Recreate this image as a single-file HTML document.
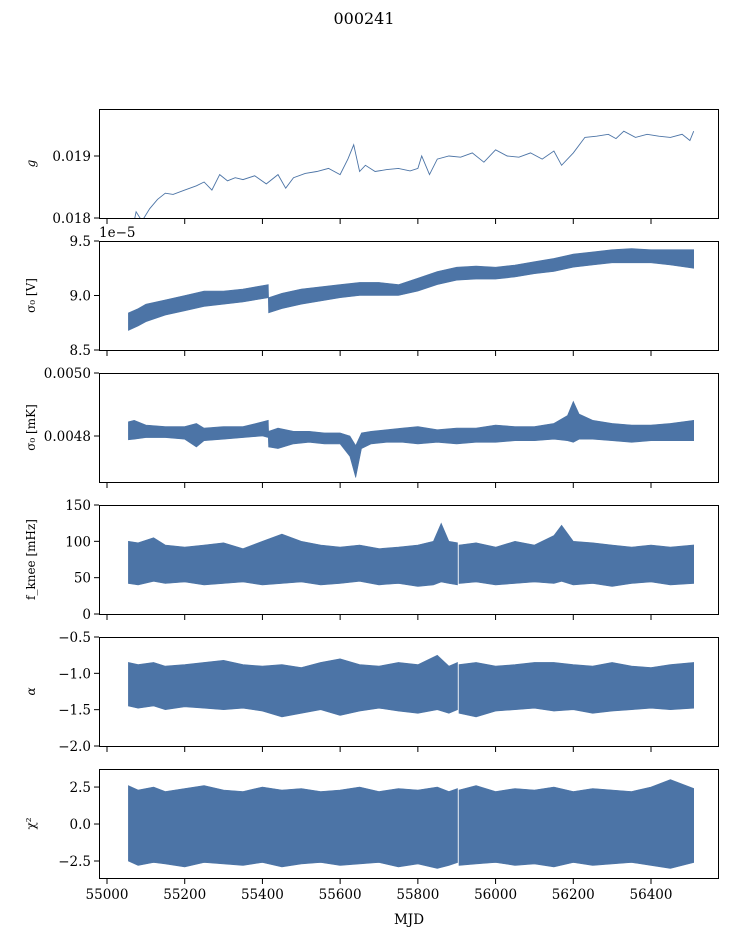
<!DOCTYPE html>
<html><head><meta charset="utf-8"><style>
html,body{margin:0;padding:0;background:#fff;}
svg{display:block;font-family:"DejaVu Serif","Liberation Serif",serif;}
</style></head><body>
<svg id="fig" width="729" height="936" viewBox="0 0 729 936" xmlns="http://www.w3.org/2000/svg">
<text x="364" y="24" font-size="16" text-anchor="middle">000241</text>
</svg>
<script>
// ---- shared x data ----
const xTicks = [55000, 55200, 55400, 55600, 55800, 56000, 56200, 56400];
const xTickLabels = ["55000","55200","55400","55600","55800","56000","56200","56400"];

// ---- panel 1: g (line) ----
const gMjd = [55055,55065,55075,55090,55110,55130,55150,55170,55200,55230,55250,55270,55290,55310,55330,55350,55380,55410,55440,55460,55480,55510,55540,55570,55600,55620,55635,55650,55665,55690,55720,55750,55780,55800,55810,55830,55850,55880,55910,55940,55970,56000,56030,56060,56090,56120,56150,56170,56200,56230,56260,56290,56310,56330,56360,56390,56420,56450,56480,56500,56510];
const gVal = [0.01795,0.01780,0.01810,0.01795,0.01815,0.01830,0.01840,0.01838,0.01845,0.01852,0.01858,0.01845,0.01870,0.01860,0.01865,0.01862,0.01868,0.01855,0.01870,0.01848,0.01865,0.01872,0.01875,0.01880,0.01870,0.01895,0.01918,0.01875,0.01885,0.01875,0.01878,0.01880,0.01876,0.01880,0.01900,0.01870,0.01895,0.01900,0.01898,0.01905,0.01890,0.01910,0.01900,0.01898,0.01905,0.01895,0.01908,0.01885,0.01905,0.01930,0.01932,0.01935,0.01928,0.01940,0.01930,0.01935,0.01932,0.01930,0.01935,0.01925,0.01940];

// ---- panel 2: sigma0 [V] envelope (1e-5) ----
const vMjd = [55055,55080,55100,55150,55200,55250,55300,55350,55415,55416,55450,55500,55550,55600,55650,55700,55750,55800,55850,55900,55950,56000,56050,56100,56150,56200,56250,56300,56350,56400,56450,56510];
const vLow = [8.68,8.72,8.76,8.82,8.86,8.90,8.92,8.94,8.98,8.84,8.88,8.92,8.95,8.98,9.00,9.00,9.00,9.04,9.10,9.14,9.15,9.15,9.17,9.20,9.22,9.26,9.28,9.30,9.30,9.30,9.28,9.25];
const vHigh = [8.84,8.88,8.92,8.96,9.00,9.04,9.04,9.06,9.10,8.98,9.02,9.06,9.08,9.10,9.12,9.12,9.10,9.16,9.22,9.26,9.27,9.26,9.28,9.31,9.34,9.38,9.40,9.42,9.43,9.42,9.42,9.42];

// ---- panel 3: sigma0 [mK] envelope ----
const kMjd = [55055,55070,55100,55150,55200,55230,55250,55300,55350,55400,55415,55416,55440,55480,55520,55560,55600,55625,55640,55655,55680,55720,55760,55800,55850,55900,55950,56000,56050,56100,56150,56185,56200,56215,56250,56300,56350,56400,56450,56510];
const kLow = [0.004788,0.004790,0.004795,0.004795,0.004790,0.004765,0.004785,0.004790,0.004795,0.004800,0.004795,0.004765,0.004760,0.004775,0.004780,0.004775,0.004775,0.004735,0.004668,0.004760,0.004775,0.004780,0.004780,0.004775,0.004780,0.004775,0.004780,0.004780,0.004785,0.004785,0.004790,0.004785,0.004780,0.004790,0.004790,0.004785,0.004780,0.004785,0.004785,0.004785];
const kHigh = [0.004845,0.004850,0.004835,0.004830,0.004830,0.004840,0.004825,0.004830,0.004830,0.004845,0.004850,0.004815,0.004825,0.004815,0.004815,0.004810,0.004810,0.004800,0.004770,0.004810,0.004815,0.004820,0.004825,0.004830,0.004820,0.004825,0.004825,0.004835,0.004830,0.004830,0.004840,0.004865,0.004910,0.004870,0.004850,0.004840,0.004835,0.004835,0.004840,0.004850];

// ---- panel 4: f_knee [mHz] envelope ----
const fMjd = [55055,55080,55120,55150,55200,55250,55300,55350,55400,55450,55500,55550,55600,55650,55700,55750,55800,55840,55860,55880,55902,55903,55905,55906,55950,56000,56050,56100,56150,56170,56200,56250,56300,56350,56400,56450,56510];
const fLow = [42,40,45,42,44,40,42,44,40,42,44,40,42,45,40,42,38,40,44,42,40,null,null,42,44,40,42,44,42,45,40,42,38,42,44,40,42];
const fHigh = [100,98,105,95,92,95,98,90,100,110,100,95,92,95,90,92,95,100,125,100,98,null,null,95,98,92,100,95,108,122,100,98,95,92,95,92,95];

// ---- panel 5: alpha envelope ----
const aMjd = [55055,55080,55120,55150,55200,55250,55300,55350,55400,55450,55500,55550,55600,55650,55700,55750,55800,55850,55880,55902,55903,55905,55906,55950,56000,56050,56100,56150,56200,56250,56300,56350,56400,56450,56510];
const aLow = [-1.45,-1.48,-1.45,-1.50,-1.46,-1.48,-1.50,-1.48,-1.52,-1.60,-1.55,-1.50,-1.58,-1.52,-1.48,-1.52,-1.55,-1.50,-1.55,-1.50,null,null,-1.55,-1.60,-1.52,-1.50,-1.48,-1.52,-1.50,-1.55,-1.52,-1.50,-1.48,-1.50,-1.48];
const aHigh = [-0.85,-0.88,-0.85,-0.90,-0.88,-0.85,-0.82,-0.88,-0.90,-0.88,-0.92,-0.85,-0.80,-0.88,-0.90,-0.85,-0.88,-0.75,-0.90,-0.85,null,null,-0.88,-0.85,-0.90,-0.88,-0.85,-0.85,-0.88,-0.90,-0.85,-0.90,-0.92,-0.88,-0.85];

// ---- panel 6: chi^2 envelope ----
const cMjd = [55055,55080,55120,55150,55200,55250,55300,55350,55400,55450,55500,55550,55600,55650,55700,55750,55800,55850,55880,55902,55903,55905,55906,55950,56000,56050,56100,56150,56200,56250,56300,56350,56400,56450,56510];
const cLow = [-2.5,-2.8,-2.6,-2.7,-2.9,-2.6,-2.7,-2.8,-2.6,-2.9,-2.7,-2.6,-2.8,-2.7,-2.6,-2.9,-2.7,-3.0,-2.8,-2.6,null,null,-2.8,-2.7,-2.6,-2.8,-2.7,-2.9,-2.6,-2.8,-2.7,-2.6,-2.8,-3.0,-2.6];
const cHigh = [2.6,2.3,2.5,2.2,2.4,2.6,2.3,2.2,2.5,2.3,2.4,2.2,2.3,2.5,2.2,2.4,2.3,2.5,2.2,2.4,null,null,2.3,2.6,2.2,2.4,2.3,2.5,2.2,2.4,2.3,2.2,2.5,3.0,2.4];

const NS = "http://www.w3.org/2000/svg";
const svg = document.getElementById('fig');
const COLOR = "#4c74a6";
const X0 = 99, X1 = 719;
function xs(m){ return 107 + (m - 55000) * (544 / 1400); }
function mk(tag, attrs, parent){
  const e = document.createElementNS(NS, tag);
  for (const k in attrs) e.setAttribute(k, attrs[k]);
  (parent || svg).appendChild(e);
  return e;
}

const panels = [
  {name:"g", top:109, ymin:0.018, ymax:0.019758, yt:[0.018,0.019], ytl:["0.018","0.019"], label:"g", type:"line", mjd:gMjd, val:gVal},
  {name:"sigma0-volts", top:241, ymin:8.5, ymax:9.5, yt:[8.5,9.0,9.5], ytl:["8.5","9.0","9.5"], label:"σ₀ [V]", type:"band", mjd:vMjd, lo:vLow, hi:vHigh, offset:"1e−5"},
  {name:"sigma0-mk", top:373, ymin:0.004654, ymax:0.0050, yt:[0.0048,0.0050], ytl:["0.0048","0.0050"], label:"σ₀ [mK]", type:"band", mjd:kMjd, lo:kLow, hi:kHigh},
  {name:"fknee", top:505, ymin:0, ymax:150, yt:[0,50,100,150], ytl:["0","50","100","150"], label:"f_knee [mHz]", type:"band", mjd:fMjd, lo:fLow, hi:fHigh},
  {name:"alpha", top:637, ymin:-2.0, ymax:-0.5, yt:[-2.0,-1.5,-1.0,-0.5], ytl:["−2.0","−1.5","−1.0","−0.5"], label:"α", type:"band", mjd:aMjd, lo:aLow, hi:aHigh},
  {name:"chi2", top:769, ymin:-3.65, ymax:3.72, yt:[-2.5,0,2.5], ytl:["−2.5","0.0","2.5"], label:"χ²", type:"band", mjd:cMjd, lo:cLow, hi:cHigh}
];
const H = 109;

panels.forEach((p, idx) => {
  const ys = v => p.top + H - (v - p.ymin) / (p.ymax - p.ymin) * H;
  const g = mk('g', {}, svg);
  
  
  const cid = 'clip' + idx;
  const cp = mk('clipPath', {id:cid}, g);
  mk('rect', {x:X0, y:p.top, width:X1-X0, height:H}, cp);

  if (p.type === 'line') {
    let d = '';
    p.mjd.forEach((m,i) => { d += (i ? 'L' : 'M') + xs(m).toFixed(1) + ',' + ys(p.val[i]).toFixed(1); });
    const l = mk('path', {d:d, fill:'none', stroke:COLOR, 'stroke-width':0.9, 'clip-path':'url(#'+cid+')'}, g);
    
    
  } else {
    const segs = []; let cur = [];
    p.mjd.forEach((m,i) => {
      if (p.lo[i] === null) { if (cur.length) segs.push(cur); cur = []; }
      else cur.push(i);
    });
    if (cur.length) segs.push(cur);
    segs.forEach(s => {
      let d = '';
      s.forEach((i,k) => { d += (k ? 'L' : 'M') + xs(p.mjd[i]).toFixed(1) + ',' + ys(p.hi[i]).toFixed(1); });
      for (let k = s.length - 1; k >= 0; k--) { const i = s[k]; d += 'L' + xs(p.mjd[i]).toFixed(1) + ',' + ys(p.lo[i]).toFixed(1); }
      d += 'Z';
      const b = mk('path', {d:d, fill:COLOR, stroke:COLOR, 'stroke-width':0.6, 'clip-path':'url(#'+cid+')'}, g);
      
      
    });
  }

  const fr = mk('rect', {x:X0+0.5, y:p.top+0.5, width:X1-X0-1, height:H, fill:'none', stroke:'#000', 'stroke-width':1}, g);
  
  

  p.yt.forEach((v,i) => {
    const y = ys(v);
    mk('line', {x1:X0-5, x2:X0, y1:y, y2:y, stroke:'#000', 'stroke-width':1}, g);
    const t = mk('text', {x:X0-8, y:y+5, 'font-size':13.5, 'text-anchor':'end'}, g);
    t.textContent = p.ytl[i];
    
    
  });
  xTicks.forEach((m,i) => {
    const x = xs(m);
    mk('line', {x1:x, x2:x, y1:p.top+H, y2:p.top+H+6, stroke:'#000', 'stroke-width':1}, g);
    if (idx === panels.length - 1) {
      const t = mk('text', {x:x, y:p.top+H+21, 'font-size':13.5, 'text-anchor':'middle'}, g);
      t.textContent = xTickLabels[i];
      
      
    }
  });
  const yl = mk('text', {x:0, y:0, 'font-size':12, 'text-anchor':'middle', transform:'translate(35,'+(p.top+H/2)+') rotate(-90)', 'font-style': (p.label==='g'||p.label==='α')?'italic':'normal'}, g);
  yl.textContent = p.label;
  
  
  if (p.offset) {
    const o = mk('text', {x:X0, y:p.top-4, 'font-size':13.5}, g);
    o.textContent = p.offset;
    
    
  }
});
const xl = mk('text', {x:409, y:924, 'font-size':13.5, 'text-anchor':'middle'});
xl.textContent = 'MJD';


</script>
</body></html>
